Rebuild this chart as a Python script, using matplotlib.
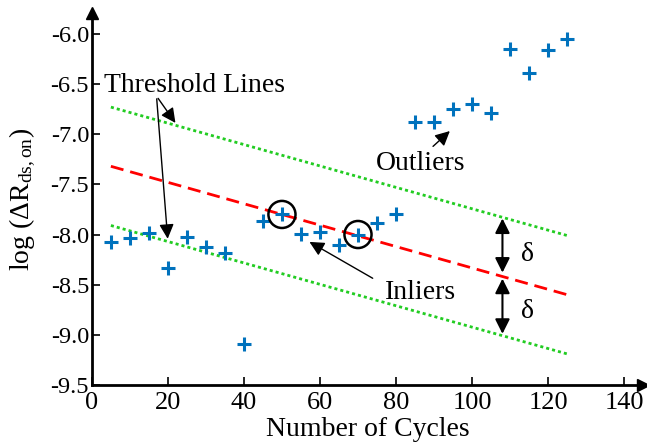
import matplotlib
matplotlib.use("Agg")
import matplotlib.pyplot as plt
import numpy as np

plt.rcParams['font.family'] = 'Liberation Serif'
plt.rcParams['mathtext.fontset'] = 'custom'
plt.rcParams['mathtext.rm'] = 'Liberation Serif'
plt.rcParams['mathtext.it'] = 'Liberation Serif:italic'

# measurements
cycles = [5, 10, 15, 20, 25, 30, 35, 40, 45, 50, 55, 60, 65,
          70, 75, 80, 85, 90, 95, 100, 105, 110, 115, 120, 125]
log_r = [-8.07, -8.03, -7.98, -8.33, -8.02, -8.12, -8.18, -9.09, -7.87,
         -7.80, -7.99, -7.97, -8.10, -8.00, -7.89, -7.80, -6.88, -6.88,
         -6.75, -6.70, -6.79, -6.15, -6.39, -6.16, -6.05]

# fitted line and threshold
fit_x = [5, 125]
fit_y = [-7.32, -8.60]
delta = 0.59

circled_x = [50, 70]
circled_y = [-7.80, -8.00]

fig = plt.figure(figsize=(6.47, 4.42), dpi=100)
ax = fig.add_axes([0.142, 0.129, 0.852, 0.842])

ax.plot(fit_x, fit_y, color='#FF0000', lw=2, dashes=(4.7, 2.5))
ax.plot(fit_x, np.array(fit_y) + delta, color='#22CC22', lw=2, dashes=(1.1, 1.1))
ax.plot(fit_x, np.array(fit_y) - delta, color='#22CC22', lw=2, dashes=(1.1, 1.1))
ax.plot(cycles, log_r, '+', color='#0072BD', ms=10, mew=2.2)
ax.scatter(circled_x, circled_y, s=380, facecolors='none', edgecolors='k', lw=1.8, zorder=5)

ax.set_xlim(0, 145)
ax.set_ylim(-9.5, -5.79)
ax.set_xticks(np.arange(0, 141, 20))
ax.set_yticks(np.arange(-9.5, -5.9, 0.5))
ax.set_yticklabels(['%.1f' % v for v in np.arange(-9.5, -5.9, 0.5)])
ax.tick_params(direction='in', length=6, width=1.2, labelsize=19, pad=5)
ax.tick_params(axis='y', labelsize=17.5, pad=2)
for s in ['top', 'right']:
    ax.spines[s].set_visible(False)
for s in ['left', 'bottom']:
    ax.spines[s].set_linewidth(2)

# axis arrows
ax.plot(1, 0, '>k', ms=9, transform=ax.transAxes, clip_on=False)
ax.plot(0, 1, '^k', ms=9, transform=ax.transAxes, clip_on=False)

ax.set_xlabel('Number of Cycles', fontsize=20, labelpad=2)
ax.set_ylabel(r'log ($\Delta\mathrm{R}_{\mathrm{ds,on}}$)', fontsize=20, labelpad=9)

# annotations
arrow_kw = dict(arrowstyle='-|>', color='k', lw=1, mutation_scale=22)
ax.text(27, -6.51, 'Threshold Lines', fontsize=20, ha='center', va='center')
ax.annotate('', xy=(22.4, -6.91), xytext=(17, -6.62), arrowprops=arrow_kw)
ax.annotate('', xy=(20, -8.07), xytext=(17, -6.62), arrowprops=arrow_kw)

ax.text(86.5, -7.29, 'Outliers', fontsize=20, ha='center', va='center')
ax.annotate('', xy=(94.7, -6.95), xytext=(89.2, -7.14), arrowprops=arrow_kw)

ax.text(86.5, -8.58, 'Inliers', fontsize=20, ha='center', va='center')
ax.annotate('', xy=(56.6, -8.06), xytext=(74.5, -8.45), arrowprops=arrow_kw)

dbl_kw = dict(arrowstyle='<|-|>', color='k', lw=1.5, mutation_scale=22,
              shrinkA=0, shrinkB=0)
ax.annotate('', xy=(108, -7.84), xytext=(108, -8.38), arrowprops=dbl_kw)
ax.annotate('', xy=(108, -8.44), xytext=(108, -8.99), arrowprops=dbl_kw)
ax.text(114.5, -8.20, r'$\mathrm{\delta}$', fontsize=20, ha='center', va='center')
ax.text(114.5, -8.77, r'$\mathrm{\delta}$', fontsize=20, ha='center', va='center')

fig.savefig('out.png', dpi=100)
